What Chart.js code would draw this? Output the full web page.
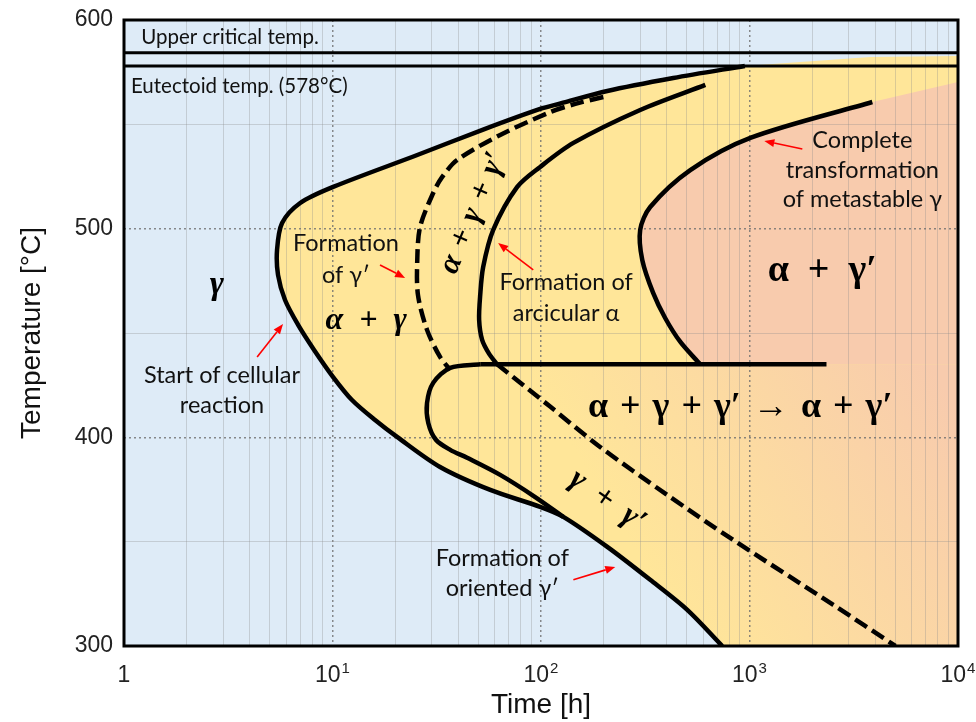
<!DOCTYPE html>
<html>
<head>
<meta charset="utf-8">
<script src="https://cdn.jsdelivr.net/npm/chart.js@4.4.1/dist/chart.umd.min.js"></script>
<style>
  html, body { margin: 0; padding: 0; background: #fff; }
</style>
</head>
<body>
<canvas id="ttt" width="976" height="722"></canvas>
<script>
const COLORS = {
  bg: '#deebf7',
  yellow: '#ffe699',
  salmon: '#f8cbad',
  ink: '#000000',
  text: '#111111',
  tick: '#222222',
  arrow: '#ff0000',
  minorGrid: 'rgba(140,140,140,0.32)',
  majorGrid: 'rgba(110,110,110,0.8)',
};

// ── axes ───────────────────────────────────────────────
const xMinorTicks = [1, 2, 3, 4, 5, 6, 7, 8, 9, 10, 20, 30, 40, 50, 60, 70, 80, 90,
  100, 200, 300, 400, 500, 600, 700, 800, 900, 1000, 2000, 3000, 4000, 5000, 6000, 7000, 8000, 9000, 10000];
const xMajorTicks = [1, 10, 100, 1000, 10000];
const xTickBase = ['1', '10', '10', '10', '10'];
const xTickPower = ['', '1', '2', '3', '4'];
const yMinorTicks = [300, 350, 400, 450, 500, 550, 600];
const yMajorTicks = [300, 400, 500, 600];

// ── curves: time [h] / temperature [°C] ────────────────
const upperTime = [1, 10000];
const upperTemp = [584.3, 584.3];
const eutTime = [1, 10000];
const eutTemp = [578, 578];

// start of cellular reaction + formation of oriented γ'
const cellTime = [950, 431, 208, 124, 99.1, 52.8, 25.5, 10.07, 7.0, 5.73, 5.42, 5.48, 5.92, 6.84, 8.16, 10.07,
  12.4, 16.0, 20.4, 32.8, 57.1, 99.1, 128, 208, 334, 503, 740];
const cellTemp = [578, 572.2, 566.0, 560.0, 557.4, 547.5, 535.3, 520.0, 512.3, 502.7, 489.8, 477.8, 465.8, 453.9, 441.9, 428.9,
  417.9, 408.3, 400.2, 385.8, 374.8, 366.7, 361.9, 347.5, 331.7, 317.3, 300];

// lower loop up to the 435 °C line
const loopTime = [128, 93.8, 63.7, 44.2, 36.7, 31.4, 28.8, 28.4, 30.4, 36.7, 51.1];
const loopTemp = [361.9, 371.4, 382.0, 390.2, 394.0, 398.7, 406.9, 416.5, 426.1, 433.3, 435];
const flatTime = [51.1, 2340];
const flatTemp = [435, 435];

// formation of arcicular α
const arcTime = [614, 299, 143, 99.1, 76.9, 59.0, 52.8, 51.1, 50.5, 52.2, 56.4, 61.6];
const arcTemp = [568.9, 556.9, 541.1, 529.6, 520.0, 499.4, 481.6, 468.2, 456.3, 446.7, 440.0, 435];

// formation of γ' (dashed, upper branch)
const gpTime = [199, 146, 111, 63.7, 39.6, 33.6, 30.4, 26.3, 25.5, 25.7, 28.4, 32.8, 36.7];
const gpTemp = [563.1, 559.8, 555.9, 544.9, 532.9, 524.8, 517.1, 500.8, 485.0, 468.2, 451.5, 438.5, 432.3];

// dashed lower branch
const gp2Time = [61.6, 111, 192, 403, 836, 2524, 5010];
const gp2Temp = [435, 414.6, 395.4, 372.4, 350.8, 319.7, 300];

// complete transformation of metastable γ
const compTime = [3882, 1009, 520, 334, 299, 306, 345, 394, 466, 580];
const compTemp = [560.7, 543.5, 528.1, 510.4, 499.4, 485.0, 469.2, 457.2, 445.7, 435];

// ── filled regions ─────────────────────────────────────
const bgTime = [1, 10000, 10000, 1];
const bgTemp = [300, 300, 600, 600];
const yellowTime = cellTime.concat([10000, 10000, 3800, 1754]);
const yellowTemp = cellTemp.concat([300, 582.7, 582.3, 579.9]);
const pinkTime = compTime.concat([10000, 10000]);
const pinkTemp = compTemp.concat([435, 570.3]);
const gradTime = [36.7, 10000, 10000, 740, 503, 334, 208, 128, 57.1, 32.8, 20.4];
const gradTemp = [435, 435, 300, 300, 317.3, 331.7, 347.5, 361.9, 374.8, 385.8, 400.2];
const gradFrom = [299, 341.3];
const gradTo = [8240, 427.5];

// ── annotations ────────────────────────────────────────
const arrowFrom = [[4.35, 438.5], [16.9, 482.6], [91.8, 480.2], [1792, 538.2], [143, 331.7]];
const arrowTo = [[5.79, 454.3], [22.3, 476.4], [62.3, 493.1], [1178, 542.0], [227, 337.9]];

const noteText = ['Upper critical temp.', 'Eutectoid temp. (578°C)', 'Start of cellular', 'reaction',
  'Formation', 'of γ′', 'Formation of', 'arcicular α', 'Complete', 'transformation', 'of metastable γ',
  'Formation of', 'oriented γ′'];
const noteAt = [[1.21, 591.9], [1.08, 568.4], [2.95, 429.9], [2.95, 415.5], [11.6, 493.1], [11.6, 477.8],
  [132, 474.0], [132, 459.6], [3477, 542.5], [3477, 528.1], [3477, 513.8], [65.2, 342.2], [65.2, 327.8]];
const noteAlign = ['left', 'left', 'center', 'center', 'center', 'center', 'center', 'center',
  'center', 'center', 'center', 'center', 'center'];
const noteSize = [20.5, 20.5, 23.5, 23.5, 23.5, 23.5, 23.5, 23.5, 23.5, 23.5, 23.5, 23.5, 23.5];

const phaseText = ['γ', 'α\u2002+\u2002γ', 'α\u2004+\u2004γ\u2004+\u2004γ′', 'α\u2002+\u2002γ′',
  'α\u2004+\u2004γ\u2004+\u2004γ′\u2004→\u2004α\u2004+\u2004γ′', 'γ\u2002+\u2002γ′'];
const phaseAt = [[2.79, 473.0], [14.5, 455.8], [47.3, 507.5], [2235, 479.7], [903, 414.1], [208, 369.5]];
const phaseAngle = [0, 0, -67, 0, 0, 35];
const phaseItalic = [true, true, true, false, false, true];
const phaseSize = [34, 32, 31, 38, 36, 32];

const pts = (xs, ys) => xs.map((x, i) => ({ x, y: ys[i] }));

function curve(xs, ys, extra) {
  return Object.assign({
    data: pts(xs, ys),
    showLine: true,
    borderColor: COLORS.ink,
    borderWidth: 4.5,
    pointRadius: 0,
    tension: 0.3,
    fill: false,
    order: 0,
  }, extra || {});
}

function region(xs, ys, color, order) {
  return {
    data: pts(xs, ys),
    showLine: true,
    borderColor: 'rgba(0,0,0,0)',
    backgroundColor: color,
    borderWidth: 1,
    pointRadius: 0,
    tension: 0,
    fill: 'shape',
    order,
  };
}

function gradientFill(c) {
  const chart = c.chart;
  if (!chart.chartArea || !chart.scales.x) return COLORS.yellow;
  const sx = chart.scales.x, sy = chart.scales.y;
  const g = chart.ctx.createLinearGradient(
    sx.getPixelForValue(gradFrom[0]), sy.getPixelForValue(gradFrom[1]),
    sx.getPixelForValue(gradTo[0]), sy.getPixelForValue(gradTo[1]));
  g.addColorStop(0, COLORS.yellow);
  g.addColorStop(1, COLORS.salmon);
  return g;
}

const toPx = (chart, p) => [chart.scales.x.getPixelForValue(p[0]), chart.scales.y.getPixelForValue(p[1])];

const decorations = {
  id: 'decorations',
  afterDatasetsDraw(chart) {
    const ctx = chart.ctx;
    const a = chart.chartArea;
    ctx.save();

    // red arrows
    ctx.strokeStyle = COLORS.arrow;
    ctx.fillStyle = COLORS.arrow;
    ctx.lineWidth = 1.6;
    arrowFrom.forEach((f, i) => {
      const [x0, y0] = toPx(chart, f);
      const [x1, y1] = toPx(chart, arrowTo[i]);
      const ang = Math.atan2(y1 - y0, x1 - x0);
      const hl = 10, hw = 4;
      const bx = x1 - hl * Math.cos(ang), by = y1 - hl * Math.sin(ang);
      ctx.beginPath(); ctx.moveTo(x0, y0); ctx.lineTo(bx, by); ctx.stroke();
      ctx.beginPath();
      ctx.moveTo(x1, y1);
      ctx.lineTo(bx + hw * Math.sin(ang), by - hw * Math.cos(ang));
      ctx.lineTo(bx - hw * Math.sin(ang), by + hw * Math.cos(ang));
      ctx.closePath(); ctx.fill();
    });

    // notes
    ctx.fillStyle = COLORS.text;
    ctx.textBaseline = 'middle';
    noteText.forEach((t, i) => {
      const [x, y] = toPx(chart, noteAt[i]);
      ctx.font = noteSize[i] + 'px Lato';
      ctx.textAlign = noteAlign[i];
      ctx.fillText(t, x, y);
    });

    // phase labels
    phaseText.forEach((t, i) => {
      const [x, y] = toPx(chart, phaseAt[i]);
      ctx.save();
      ctx.translate(x, y);
      ctx.rotate(phaseAngle[i] * Math.PI / 180);
      ctx.font = (phaseItalic[i] ? 'italic ' : '') + 'bold ' + phaseSize[i] + 'px "Liberation Serif"';
      ctx.textAlign = 'center';
      ctx.fillStyle = '#000';
      ctx.fillText(t, 0, 0);
      ctx.restore();
    });

    // frame
    ctx.strokeStyle = COLORS.ink;
    ctx.lineWidth = 3;
    ctx.strokeRect(a.left, a.top, a.right - a.left, a.bottom - a.top);

    // x tick labels with superscript powers of ten
    const sx = chart.scales.x;
    ctx.fillStyle = COLORS.tick;
    ctx.textAlign = 'left';
    ctx.textBaseline = 'alphabetic';
    xMajorTicks.forEach((v, i) => {
      const px = sx.getPixelForValue(v);
      ctx.font = '23px "Liberation Sans"';
      const wb = ctx.measureText(xTickBase[i]).width;
      ctx.font = '15px "Liberation Sans"';
      const wp = xTickPower[i] ? ctx.measureText(xTickPower[i]).width + 1 : 0;
      const x0 = px - (wb + wp) / 2;
      ctx.font = '23px "Liberation Sans"';
      ctx.fillText(xTickBase[i], x0, a.bottom + 36);
      if (xTickPower[i]) {
        ctx.font = '15px "Liberation Sans"';
        ctx.fillText(xTickPower[i], x0 + wb + 1, a.bottom + 27);
      }
    });
    ctx.restore();
  },
};

new Chart(document.getElementById('ttt'), {
  type: 'scatter',
  data: {
    datasets: [
      region(bgTime, bgTemp, COLORS.bg, 10),
      region(yellowTime, yellowTemp, COLORS.yellow, 9),
      region(gradTime, gradTemp, gradientFill, 8),
      region(pinkTime, pinkTemp, COLORS.salmon, 7),
      curve(upperTime, upperTemp, { borderWidth: 3, tension: 0 }),
      curve(eutTime, eutTemp, { borderWidth: 3, tension: 0 }),
      curve(cellTime, cellTemp),
      curve(loopTime, loopTemp),
      curve(flatTime, flatTemp, { tension: 0 }),
      curve(arcTime, arcTemp),
      curve(gpTime, gpTemp, { borderDash: [14, 6] }),
      curve(gp2Time, gp2Temp, { borderDash: [14, 6] }),
      curve(compTime, compTemp),
    ],
  },
  options: {
    responsive: false,
    animation: false,
    devicePixelRatio: 1,
    layout: { padding: { top: 20, right: 18, left: 0, bottom: 0 } },
    plugins: {
      legend: { display: false },
      tooltip: { enabled: false },
      filler: { drawTime: 'beforeDraw' },
    },
    scales: {
      x: {
        type: 'logarithmic',
        min: 1, max: 10000,
        position: 'bottom',
        afterBuildTicks: s => { s.ticks = xMinorTicks.map(v => ({ value: v })); },
        afterFit: s => { s.height = 76; s.paddingLeft = 0; s.paddingRight = 0; },
        grid: {
          color: c => (xMajorTicks.includes(c.tick && c.tick.value) ? 'rgba(0,0,0,0)' : COLORS.minorGrid),
          lineWidth: 1,
          drawTicks: false,
        },
        border: { display: false },
        ticks: {
          autoSkip: false,
          maxRotation: 0,
          callback: () => '',
        },
        title: {
          display: true,
          text: 'Time [h]',
          color: '#111',
          font: { family: 'Liberation Sans', size: 28 },
          padding: { top: 0, bottom: 0 },
        },
      },
      x2: {
        type: 'logarithmic',
        min: 1, max: 10000,
        position: 'bottom',
        afterBuildTicks: s => { s.ticks = xMajorTicks.map(v => ({ value: v })); },
        afterFit: s => { s.height = 0; s.paddingLeft = 0; s.paddingRight = 0; },
        grid: { color: COLORS.majorGrid, lineWidth: 1.5, drawTicks: false },
        border: { display: false, dash: [2, 3] },
        ticks: { display: false },
      },
      y: {
        type: 'linear',
        min: 300, max: 600,
        position: 'left',
        afterBuildTicks: s => { s.ticks = yMinorTicks.map(v => ({ value: v })); },
        afterFit: s => { s.width = 124; s.paddingTop = 0; s.paddingBottom = 0; },
        grid: {
          color: c => (yMajorTicks.includes(c.tick && c.tick.value) ? 'rgba(0,0,0,0)' : COLORS.minorGrid),
          lineWidth: 1,
          drawTicks: false,
        },
        border: { display: false },
        ticks: {
          padding: 11,
          color: COLORS.tick,
          font: { family: 'Liberation Sans', size: 23 },
          callback: v => (yMajorTicks.includes(v) ? String(v) : ''),
        },
        title: {
          display: true,
          text: 'Temperature [°C]',
          color: '#111',
          font: { family: 'Liberation Sans', size: 28 },
          padding: { top: 15, bottom: 0 },
        },
      },
      y2: {
        type: 'linear',
        min: 300, max: 600,
        position: 'left',
        afterBuildTicks: s => { s.ticks = yMajorTicks.map(v => ({ value: v })); },
        afterFit: s => { s.width = 0; s.paddingTop = 0; s.paddingBottom = 0; },
        grid: { color: COLORS.majorGrid, lineWidth: 1.5, drawTicks: false },
        border: { display: false, dash: [2, 3] },
        ticks: { display: false },
      },
    },
  },
  plugins: [decorations],
});
</script>
</body>
</html>
